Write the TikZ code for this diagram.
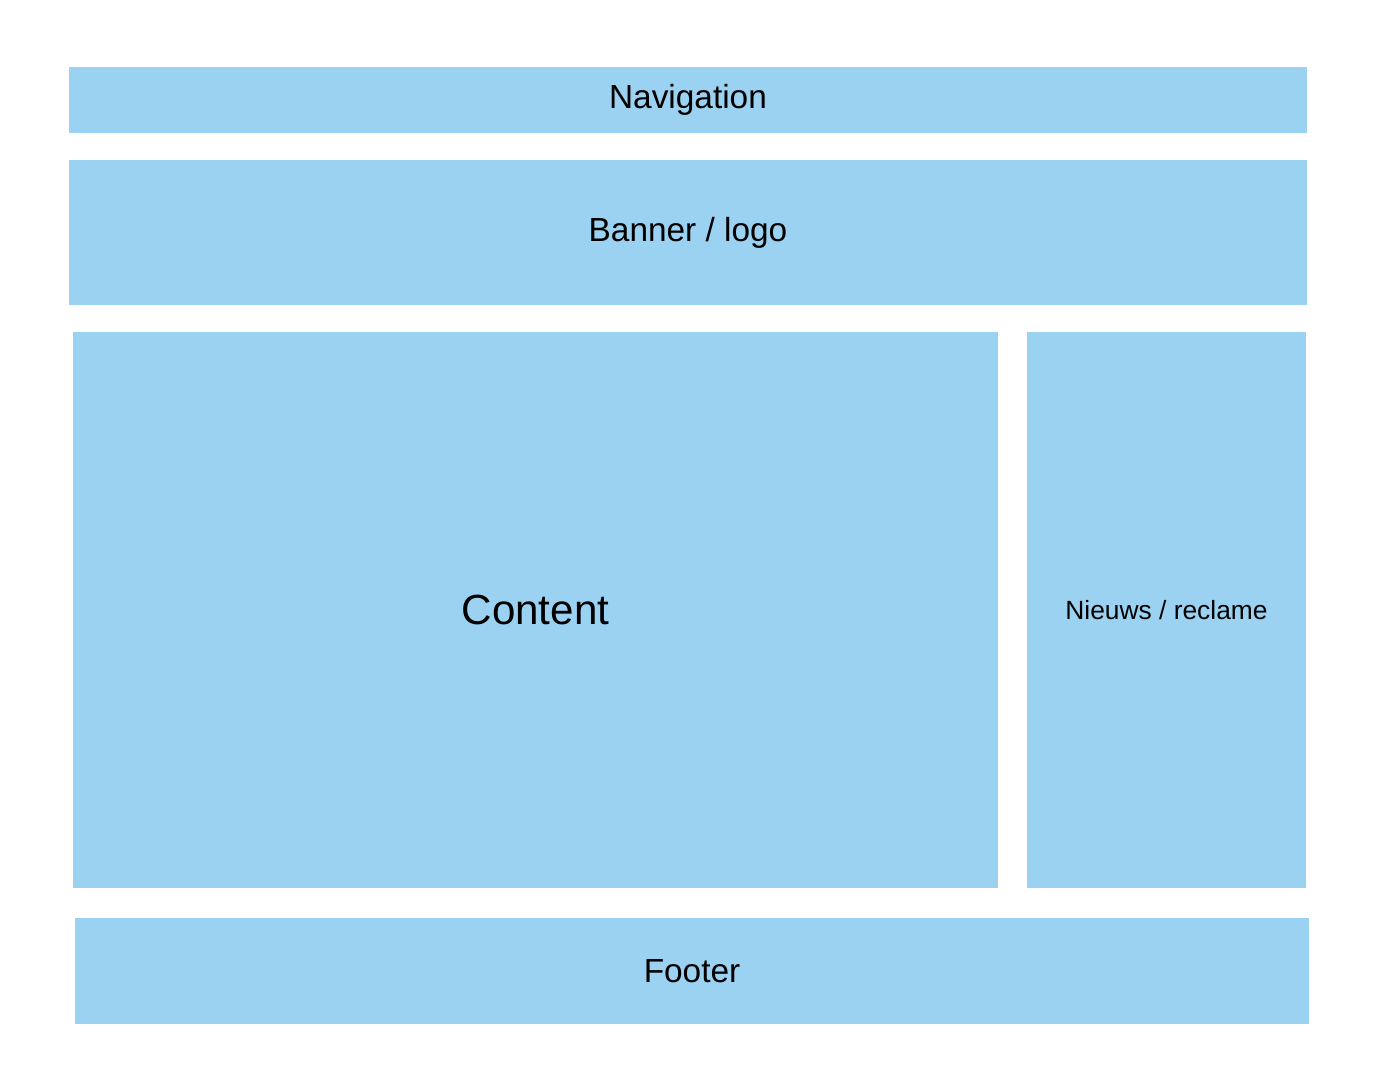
\documentclass[tikz,border=0pt]{standalone}
\usepackage{fontspec}
\setmainfont{Liberation Sans}
\definecolor{boxblue}{HTML}{9BD2F2}
\tikzstyle{block} = [rectangle, fill=boxblue, text centered, inner sep=0pt, font=\fontsize{19}{22}\selectfont]

\begin{document}
\begin{tikzpicture}[x=0.02cm, y=-0.02cm]
    \useasboundingbox (0,0) rectangle (1384,1065);

    % page regions
    \node[block, minimum width=24.76cm, minimum height=1.32cm] (nav) at (688,100) {Navigation};
    \node[block, minimum width=24.76cm, minimum height=2.9cm] (banner) at (688,232.5) {Banner / logo};
    \node[block, minimum width=18.5cm, minimum height=11.12cm, font=\fontsize{24}{28}\selectfont] (content) at (535.5,610) {Content};
    \node[block, minimum width=5.58cm, minimum height=11.12cm, font=\fontsize{15}{18}\selectfont] (news) at (1166.5,610) {Nieuws / reclame};
    \node[block, minimum width=24.68cm, minimum height=2.12cm] (footer) at (692,971) {Footer};
\end{tikzpicture}
\end{document}
